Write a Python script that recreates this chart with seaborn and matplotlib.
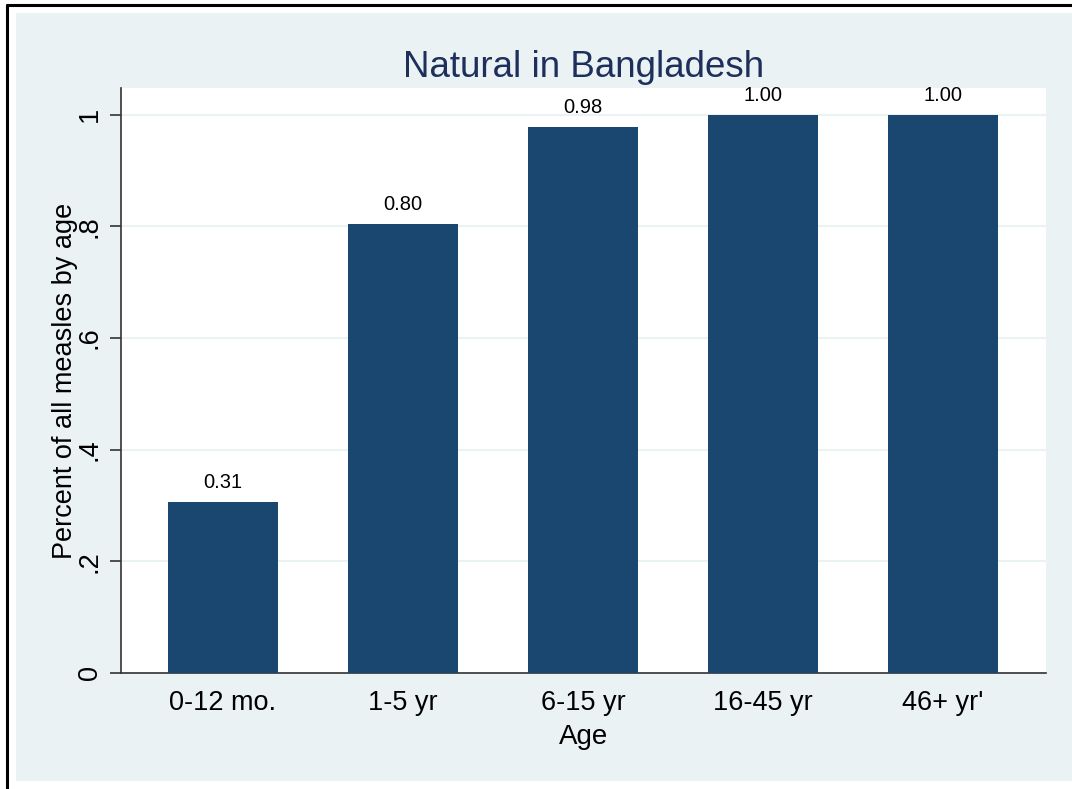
import pandas as pd
import numpy as np
import matplotlib.pyplot as plt
import matplotlib.patches as mpatches
import matplotlib.lines as mlines
import seaborn as sns

# Data
age_groups = ["0-12 mo.", "1-5 yr", "6-15 yr", "16-45 yr", "46+ yr'"]
share_values = [0.306, 0.804, 0.978, 1.0, 1.0]
y_ticks = [0, 0.2, 0.4, 0.6, 0.8, 1.0]
y_tick_labels = ["0", ".2", ".4", ".6", ".8", "1"]

BAR_COLOR = "#1a476f"
BG_COLOR = "#eaf2f3"
TITLE_COLOR = "#1e2f5c"


def make_chart(df):
    sns.set_theme(style="white")
    plt.rcParams['font.family'] = ['Liberation Sans', 'DejaVu Sans']
    plt.rcParams['text.color'] = 'black'
    plt.rcParams['axes.labelcolor'] = 'black'
    plt.rcParams['xtick.color'] = 'black'
    plt.rcParams['ytick.color'] = 'black'

    fig = plt.figure(figsize=(10.72, 7.89), dpi=100)
    fig.patch.set_facecolor("white")

    # Stata-like light background panel and black frame
    W, H = 1072, 789
    fig.patches.append(mpatches.Rectangle((16 / W, 1 - 781 / H), 1 - 16 / W, (781 - 13) / H,
                                          transform=fig.transFigure, facecolor=BG_COLOR,
                                          edgecolor="none", zorder=-2))
    fig.lines.append(mlines.Line2D([7 / W, 1], [1 - 5 / H, 1 - 5 / H], transform=fig.transFigure,
                                   color="black", lw=2.2))
    fig.lines.append(mlines.Line2D([7 / W, 7 / W], [1 - 5 / H, 0], transform=fig.transFigure,
                                   color="black", lw=2.2))

    ax = fig.add_axes([121 / W, 1 - 673 / H, (1046 - 121) / W, (673 - 88) / H])
    ax.set_facecolor("white")

    sns.barplot(data=df, x="Age", y="Share", color=BAR_COLOR, saturation=1,
                width=0.61, linewidth=0, ax=ax, zorder=3)
    ax.bar_label(ax.containers[0], fmt="%.2f", padding=7, fontsize=14.5, color="black")

    ax.set_xlim(-0.567, 4.572)
    ax.set_ylim(0, 1.048)
    ax.set_yticks(y_ticks)
    ax.set_yticklabels(y_tick_labels, rotation=90, va="center", fontsize=19.5)
    ax.tick_params(axis="y", left=True, length=8, width=1.2, color="#333333", pad=5)
    ax.tick_params(axis="x", bottom=False, labelsize=19.5, pad=6)
    ax.yaxis.grid(True, color=BG_COLOR, lw=1.5, zorder=0)
    ax.set_axisbelow(True)

    for side in ["top", "right"]:
        ax.spines[side].set_visible(False)
    for side in ["left", "bottom"]:
        ax.spines[side].set_color("#333333")
        ax.spines[side].set_linewidth(1.2)

    ax.set_xlabel("Age", fontsize=20, labelpad=6)
    ax.set_ylabel("Percent of all measles by age", fontsize=19.5, labelpad=-1)
    ax.set_title("Natural in Bangladesh", fontsize=26.5, color=TITLE_COLOR, pad=8)

    fig.savefig("out.png", dpi=100)
    plt.close(fig)


if __name__ == "__main__":
    df = pd.DataFrame({"Age": age_groups, "Share": share_values})
    make_chart(df)
